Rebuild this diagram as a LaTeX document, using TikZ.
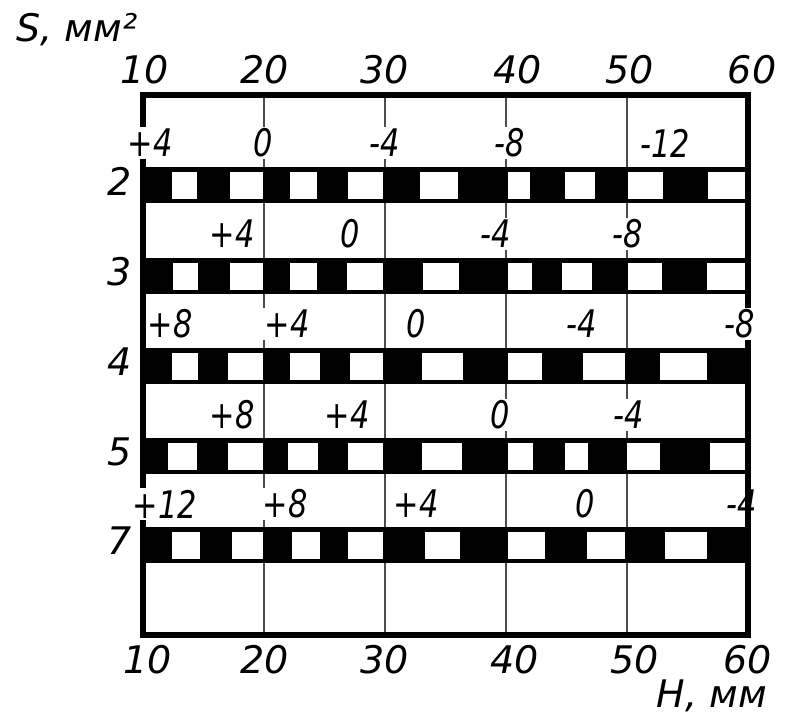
\documentclass[tikz,border=0pt]{standalone}
\usepackage{fontspec}
\setmainfont{DejaVu Sans}
\newfontfamily\narrowhand[FakeStretch=0.8]{DejaVu Sans}
\usepackage{tikz}
\begin{document}
\begin{tikzpicture}[x=0.5pt,y=-0.5pt,
  outline/.style={line width=2.6pt},
  gridline/.style={line width=1pt,draw=black!70},
  band/.style={fill=black},
  hole/.style={fill=white},
  num/.style={font=\fontsize{19}{22}\selectfont\itshape,inner sep=0pt},
  val/.style={font=\fontsize{19}{22}\selectfont\narrowhand\itshape,inner sep=1pt,fill=white},
]
  \useasboundingbox (0,0) rectangle (787,717);
  % grid lines 20..50
  \foreach \x in {264,385,506,627}
    \draw[gridline] (\x,95) -- (\x,635);
  % black strips with white windows
  \foreach \yt/\holes in {
      167/{172/197,230/263,290/317,348/383,420/458,508/530,565/595,628/663,708/745},
      258/{173/198,230/263,290/317,347/383,423/459,508/532,562/592,628/662,707/745},
      348/{172/198,228/263,290/320,350/383,422/463,508/542,583/625,660/707},
      438/{168/197,228/263,288/318,348/383,422/462,508/533,565/588,627/660,710/745},
      527/{172/200,232/263,292/320,348/383,425/460,508/545,587/625,665/707}} {
    \fill[band] (143,\yt) rectangle (748,\yt+36);
    \foreach \a/\b in \holes
      \fill[hole] (\a,\yt+5) rectangle (\b,\yt+32);
  }
  \node[val] (e5) at (742,504) {-4};
  \draw[outline] (143,95) rectangle (748,635);
  % strip numbers
  \foreach \r/\y in {2/181,3/272,4/362,5/452,7/541}
    \node[num] (row\r) at (120,\y) {\r};
  % scale top and bottom
  \foreach \v/\xt/\xb in {10/145/148,20/265/265,30/385/385,40/518/515,50/630/635,60/752/748} {
    \node[num] (top\v) at (\xt,70) {\v};
    \node[num] (bot\v) at (\xb,660) {\v};
  }
  % values between strips
  \foreach \yy/\items in {
      143/{+4/150,0/263,-4/385,-8/510,-12/665},
      234/{+4/232,0/350,-4/496,-8/628},
      324/{+8/170,+4/287,0/416,-4/582,-8/740},
      415/{+8/232,+4/347,0/500,-4/629},
      504/{+12/165,+8/285,+4/416,0/585}} {
    \foreach \t/\x [count=\k] in \items
      \node[val] (v\yy-\k) at (\x,\yy) {\t};
  }
  \node[num] (ylab) at (77,30) {S, мм²};
  \node[num] (xlab) at (712,696) {H, мм};
\end{tikzpicture}
\end{document}
